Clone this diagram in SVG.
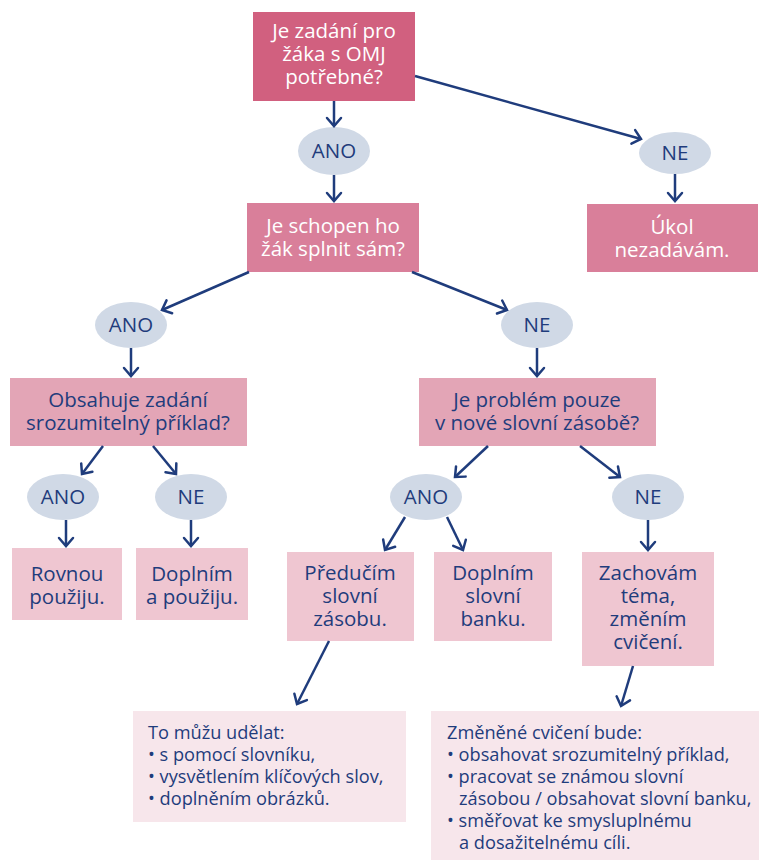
<svg xmlns="http://www.w3.org/2000/svg" width="759" height="860" viewBox="0 0 759 860">
<defs>
<marker id="ah" markerUnits="userSpaceOnUse" markerWidth="20" markerHeight="20" refX="0" refY="0" viewBox="-12 -10 14 20" orient="auto">
<path d="M-8,-7 L0,0 L-8,7" fill="none" stroke="#1f3c7c" stroke-width="2.5" stroke-linejoin="miter" stroke-linecap="round"/>
</marker>
<style>
.t{font-family:"Open Sans","Liberation Sans",sans-serif;font-size:20.5px;text-anchor:middle;}
.w{fill:#ffffff;}
.b{fill:#1f3c7c;}
.s{font-family:"Open Sans","Liberation Sans",sans-serif;font-size:18.2px;fill:#1f3c7c;}
.e{fill:#d0d9e6;}
.c line{stroke:#1f3c7c;stroke-width:2.5;marker-end:url(#ah);}
</style>
</defs>
<rect width="759" height="860" fill="#ffffff"/>

<g id="q1">
<rect x="253" y="12" width="162" height="89" fill="#d1607f"/>
<text class="t w" x="334" y="38">Je zadání pro<tspan x="334" dy="23">žáka s OMJ</tspan><tspan x="334" dy="23">potřebné?</tspan></text>
</g>
<g id="ano1"><ellipse class="e" cx="334" cy="151" rx="36" ry="24"/><text class="t b" x="334" y="158">ANO</text></g>
<g id="ne1"><ellipse class="e" cx="675" cy="153" rx="36" ry="21"/><text class="t b" x="675" y="160">NE</text></g>
<g id="ukol">
<rect x="587" y="204" width="171" height="68" fill="#d97f9a"/>
<text class="t w" x="672" y="234">Úkol<tspan x="672" dy="23">nezadávám.</tspan></text>
</g>
<g id="q2">
<rect x="247" y="203" width="172" height="69" fill="#d97f9a"/>
<text class="t w" x="333" y="233">Je schopen ho<tspan x="333" dy="23">žák splnit sám?</tspan></text>
</g>
<g id="ano2"><ellipse class="e" cx="131" cy="325" rx="36" ry="23"/><text class="t b" x="131" y="332">ANO</text></g>
<g id="ne2"><ellipse class="e" cx="537" cy="325" rx="36" ry="23"/><text class="t b" x="537" y="332">NE</text></g>
<g id="q3">
<rect x="10" y="378" width="237" height="68" fill="#e3a5b6"/>
<text class="t b" x="128" y="407">Obsahuje zadání<tspan x="128" dy="23">srozumitelný příklad?</tspan></text>
</g>
<g id="q4">
<rect x="419" y="378" width="237" height="68" fill="#e3a5b6"/>
<text class="t b" x="537" y="407">Je problém pouze<tspan x="537" dy="23">v nové slovní zásobě?</tspan></text>
</g>
<g id="ano3"><ellipse class="e" cx="63" cy="497" rx="36" ry="23"/><text class="t b" x="63" y="504">ANO</text></g>
<g id="ne3"><ellipse class="e" cx="191" cy="497" rx="36" ry="23"/><text class="t b" x="191" y="504">NE</text></g>
<g id="ano4"><ellipse class="e" cx="426" cy="497" rx="36" ry="23"/><text class="t b" x="426" y="504">ANO</text></g>
<g id="ne4"><ellipse class="e" cx="648" cy="497" rx="36" ry="23"/><text class="t b" x="648" y="504">NE</text></g>
<g id="rovnou">
<rect x="12" y="548" width="110" height="72" fill="#efc6d1"/>
<text class="t b" x="67" y="581">Rovnou<tspan x="67" dy="23">použiju.</tspan></text>
</g>
<g id="doplnim1">
<rect x="136" y="548" width="112" height="72" fill="#efc6d1"/>
<text class="t b" x="192" y="581">Doplním<tspan x="192" dy="23">a použiju.</tspan></text>
</g>
<g id="preducim">
<rect x="287" y="552" width="127" height="89" fill="#efc6d1"/>
<text class="t b" x="350" y="580">Předučím<tspan x="350" dy="23">slovní</tspan><tspan x="350" dy="23">zásobu.</tspan></text>
</g>
<g id="doplnim2">
<rect x="434" y="552" width="118" height="89" fill="#efc6d1"/>
<text class="t b" x="493" y="580">Doplním<tspan x="493" dy="23">slovní</tspan><tspan x="493" dy="23">banku.</tspan></text>
</g>
<g id="zachovam">
<rect x="582" y="552" width="132" height="114" fill="#efc6d1"/>
<text class="t b" x="648" y="580">Zachovám<tspan x="648" dy="23">téma,</tspan><tspan x="648" dy="23">změním</tspan><tspan x="648" dy="23">cvičení.</tspan></text>
</g>
<g id="note1">
<rect x="133" y="711" width="273" height="111" fill="#f7e6eb"/>
<text class="s" x="148" y="739">To můžu udělat:<tspan x="148" dy="22">• s pomocí slovníku,</tspan><tspan x="148" dy="22">• vysvětlením klíčových slov,</tspan><tspan x="148" dy="22">• doplněním obrázků.</tspan></text>
</g>
<g id="note2">
<rect x="431" y="711" width="328" height="149" fill="#f7e6eb"/>
<text class="s" x="447" y="739">Změněné cvičení bude:<tspan x="447" dy="22">• obsahovat srozumitelný příklad,</tspan><tspan x="447" dy="22">• pracovat se známou slovní</tspan><tspan x="459" dy="22">zásobou / obsahovat slovní banku,</tspan><tspan x="447" dy="22">• směřovat ke smysluplnému</tspan><tspan x="459" dy="22">a dosažitelnému cíli.</tspan></text>
</g>

<g id="connectors" class="c">
<line x1="334" y1="101" x2="334" y2="126"/>
<line x1="415" y1="76" x2="641" y2="139"/>
<line x1="334" y1="175" x2="334" y2="201"/>
<line x1="675" y1="174" x2="675" y2="201"/>
<line x1="249" y1="272" x2="162" y2="310"/>
<line x1="412" y1="272" x2="507" y2="310"/>
<line x1="131" y1="348" x2="131" y2="376"/>
<line x1="537" y1="348" x2="537" y2="376"/>
<line x1="103" y1="446" x2="82" y2="474"/>
<line x1="153" y1="446" x2="176" y2="474"/>
<line x1="66" y1="520" x2="66" y2="546"/>
<line x1="191" y1="520" x2="191" y2="546"/>
<line x1="488" y1="446" x2="455" y2="477"/>
<line x1="580" y1="446" x2="620" y2="477"/>
<line x1="405" y1="517" x2="385" y2="550"/>
<line x1="447" y1="517" x2="463" y2="550"/>
<line x1="648" y1="520" x2="648" y2="550"/>
<line x1="329" y1="641" x2="297" y2="704"/>
<line x1="633" y1="666" x2="621" y2="706"/>
</g>
</svg>
